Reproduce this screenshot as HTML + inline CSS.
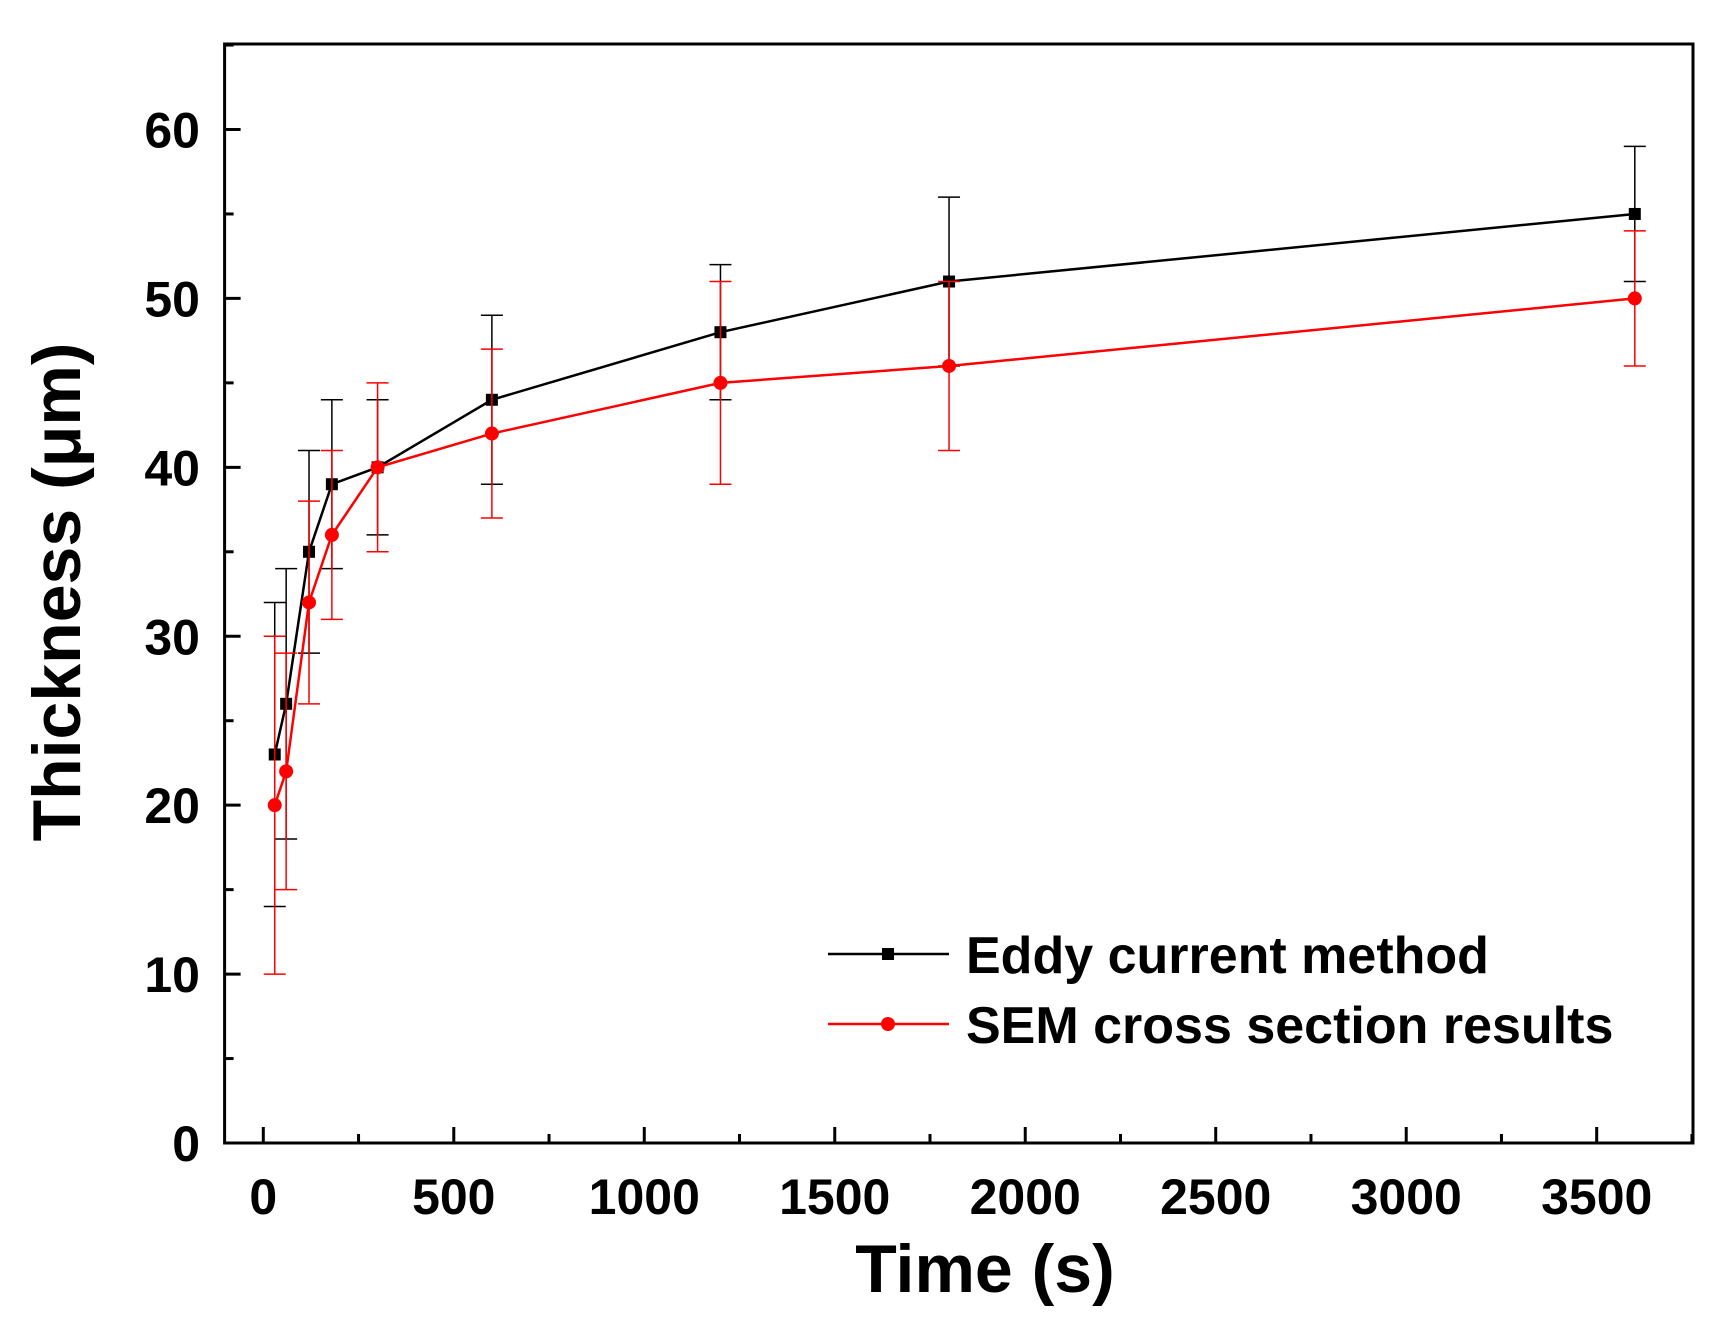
<!DOCTYPE html>
<html><head><meta charset="utf-8"><style>
body{margin:0;background:#fff}
svg text{font-family:"Liberation Sans",Arial,sans-serif;font-weight:bold}
</style></head><body>
<svg id="chart" width="1735" height="1323" xmlns="http://www.w3.org/2000/svg">
<g id="axes"></g>
<g id="series"></g>
<g id="legend">
<line x1="828" y1="954" x2="949" y2="954" stroke="#000" stroke-width="2.5"/>
<rect x="882" y="948" width="12" height="12" fill="#000"/>
<text x="966" y="973" font-size="52">Eddy current method</text>
<line x1="828" y1="1024" x2="949" y2="1024" stroke="#f00" stroke-width="2.5"/>
<circle cx="888" cy="1024" r="7" fill="#f00"/>
<text x="966" y="1043" font-size="52">SEM cross section results</text>
</g>
<text x="985" y="1292" font-size="68" text-anchor="middle">Time (s)</text>
<text transform="translate(80,592) rotate(-90)" font-size="68" text-anchor="middle">Thickness (μm)</text>
</svg>
<script>
const times=[30,60,120,180,300,600,1200,1800,3600];
const eddy=[23,26,35,39,40,44,48,51,55];
const eddyErr=[9,8,6,5,4,5,4,5,4];
const sem=[20,22,32,36,40,42,45,46,50];
const semErr=[10,7,6,5,5,5,6,5,4];
const xTicks=[0,500,1000,1500,2000,2500,3000,3500];
const yTicks=[0,10,20,30,40,50,60];
const NS="http://www.w3.org/2000/svg";
const L=224.6,R=1693,T=44,B=1143;
const X=v=>263.3+v*(1333.4/3500);
const Y=v=>1143-v*(1013.5/60);
function mk(tag,attrs,parent){const e=document.createElementNS(NS,tag);for(const k in attrs)e.setAttribute(k,attrs[k]);parent.appendChild(e);return e;}
const ax=document.getElementById('axes');
const frame=mk('rect',{x:L,y:T,width:R-L,height:B-T,fill:'none',stroke:'#000','stroke-width':3},ax);


for(let v=0;v<=3750;v+=250){const x=X(v);if(x>R)break;const major=v%500===0;
 mk('line',{x1:x,y1:B,x2:x,y2:B-(major?16:9),stroke:'#000','stroke-width':3},ax);}
xTicks.forEach(v=>{const t=mk('text',{x:X(v),y:1214,'font-size':50,'text-anchor':'middle'},ax);t.textContent=v;
 
 });
for(let v=0;v<=65;v+=5){const y=Y(v);if(y<T)break;const major=v%10===0;
 mk('line',{x1:L,y1:y,x2:L+(major?16:9),y2:y,stroke:'#000','stroke-width':3},ax);}
yTicks.forEach(v=>{const t=mk('text',{x:200,y:Y(v)+18,'font-size':50,'text-anchor':'end'},ax);t.textContent=v;
 
 });
const sg=document.getElementById('series');
function series(vals,errs,color,name,square){
 const g=mk('g',{},sg);
 
 
 vals.forEach((v,i)=>{const x=X(times[i]);
  mk('line',{x1:x,y1:Y(v-errs[i]),x2:x,y2:Y(v+errs[i]),stroke:color,'stroke-width':1.5},g);
  [v-errs[i],v+errs[i]].forEach(e=>mk('line',{x1:x-11,y1:Y(e),x2:x+11,y2:Y(e),stroke:color,'stroke-width':1.5},g));});
 mk('polyline',{points:vals.map((v,i)=>X(times[i])+','+Y(v)).join(' '),fill:'none',stroke:color,'stroke-width':2.5},g);
 vals.forEach((v,i)=>{const x=X(times[i]),y=Y(v);
  const m=square?mk('rect',{x:x-6,y:y-6,width:12,height:12,fill:color},g):mk('circle',{cx:x,cy:y,r:7,fill:color},g);
  
  });
}
series(eddy,eddyErr,'#000','eddy-series',true);
series(sem,semErr,'#f00','sem-series',false);
</script>
</body></html>
